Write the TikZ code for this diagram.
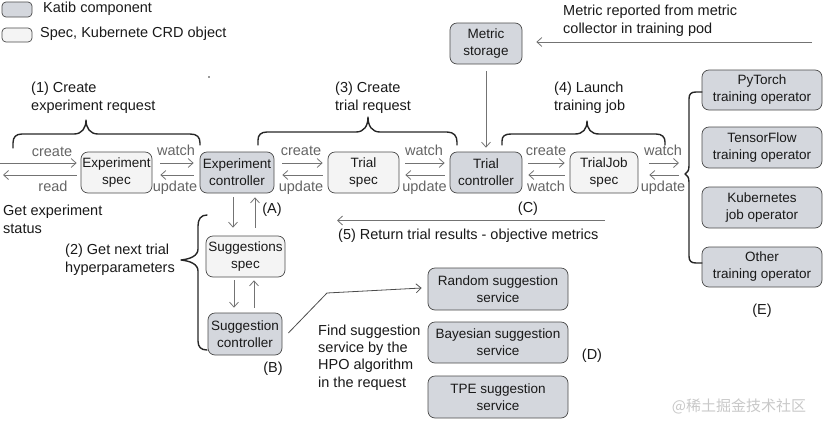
\documentclass[tikz,border=0pt]{standalone}
\usepackage{fontspec}
\setmainfont{Liberation Sans}
\newfontfamily\cjkfont{Noto Sans CJK SC}
\usetikzlibrary{arrows.meta,calc}
\definecolor{katib}{RGB}{212,215,221}
\definecolor{specfill}{RGB}{244,244,244}
\definecolor{edge}{RGB}{75,75,75}
\definecolor{arrowgray}{RGB}{115,115,115}
\definecolor{labgray}{RGB}{100,100,100}
\definecolor{txt}{RGB}{25,25,25}
\definecolor{wm}{RGB}{200,200,200}
\begin{document}
\begin{tikzpicture}[x=1pt,y=-1pt,
  box/.style={draw=edge, line width=0.7pt, rounded corners=7pt, align=center, text=txt, font=\fontsize{13.5}{17}\selectfont, inner sep=1pt},
  katibbox/.style={box, fill=katib},
  specbox/.style={box, fill=specfill},
  arr/.style={draw=arrowgray, line width=0.8pt, -{Straight Barb[length=5pt,width=9pt]}},
  lab/.style={text=labgray, font=\fontsize{14.5}{17}\selectfont, inner sep=0pt, text height=10pt, text depth=3pt},
  txtnode/.style={text=txt, font=\fontsize{14.5}{18}\selectfont, inner sep=0pt, align=left},
  bracestyle/.style={draw=black!85, line width=1.4pt, line cap=round, line join=round}
]
\useasboundingbox (0,0) rectangle (823,421);

% legend
\node[katibbox, rounded corners=4pt, minimum width=30pt, minimum height=15pt] (lk) at (17,9.5) {};
\node[txtnode, anchor=west] (lkt) at (43,9) {Katib component};
\node[specbox, rounded corners=4pt, minimum width=30pt, minimum height=14pt] (ls) at (17,35) {};
\node[txtnode, anchor=west] (lst) at (40,34) {Spec, Kubernete CRD object};

% main boxes
\node[specbox, minimum width=71pt, minimum height=41pt] (es) at (116.5,172.5) {Experiment\\spec};
\node[katibbox, minimum width=74pt, minimum height=41pt] (ec) at (237,172.5) {Experiment\\controller};
\node[specbox, minimum width=71pt, minimum height=41pt] (ts) at (363.5,172.5) {Trial\\spec};
\node[katibbox, minimum width=72pt, minimum height=41pt] (tc) at (486,172.5) {Trial\\controller};
\node[specbox, minimum width=68pt, minimum height=41pt] (tjs) at (604,172.5) {TrialJob\\spec};
\node[katibbox, minimum width=72pt, minimum height=41pt] (ms) at (486,43.5) {Metric\\storage};
\node[specbox, minimum width=79pt, minimum height=41pt] (ss) at (245.5,256.5) {Suggestions\\spec};
\node[katibbox, minimum width=74pt, minimum height=42pt] (sc) at (245,334) {Suggestion\\controller};
\node[katibbox, minimum width=140pt, minimum height=42pt] (rs) at (498,289) {Random suggestion\\service};
\node[katibbox, minimum width=140pt, minimum height=41pt] (bs) at (498,342.5) {Bayesian suggestion\\service};
\node[katibbox, minimum width=140pt, minimum height=42pt] (tp) at (498,397) {TPE suggestion\\service};
\node[katibbox, minimum width=120pt, minimum height=40pt] (pt) at (762,90) {PyTorch\\training operator};
\node[katibbox, minimum width=120pt, minimum height=41pt] (tf) at (762,147.5) {TensorFlow\\training operator};
\node[katibbox, minimum width=120pt, minimum height=41pt] (kj) at (762,207.5) {Kubernetes\\job operator};
\node[katibbox, minimum width=120pt, minimum height=40pt] (ot) at (762,267) {Other\\training operator};

% free ends
\coordinate (lin) at (0,163);
\coordinate (lout) at (3,175);
\coordinate (etip) at (685,174);
\coordinate (mrin) at (812,42);
\coordinate (r5a) at (605,220.5);
\coordinate (r5b) at (337,220.5);
\coordinate (bend) at (327,293);

% horizontal arrow pairs
\draw[arr, shorten >=4pt] (lin) -- (lin -| es.west);
\draw[arr, shorten <=4pt] (lout -| es.west) -- (lout);
\draw[arr, shorten <=8pt, shorten >=6pt] ([yshift=9.5pt]es.east) -- ([yshift=9.5pt]ec.west);
\draw[arr, shorten <=6pt, shorten >=8pt] ([yshift=-2.5pt]ec.west) -- ([yshift=-2.5pt]es.east);
\draw[arr, shorten <=8pt, shorten >=5pt] ([yshift=9.5pt]ec.east) -- ([yshift=9.5pt]ts.west);
\draw[arr, shorten <=5pt, shorten >=8pt] ([yshift=-2.5pt]ts.west) -- ([yshift=-2.5pt]ec.east);
\draw[arr, shorten <=6pt, shorten >=5pt] ([yshift=9.5pt]ts.east) -- ([yshift=9.5pt]tc.west);
\draw[arr, shorten <=5pt, shorten >=6pt] ([yshift=-2.5pt]tc.west) -- ([yshift=-2.5pt]ts.east);
\draw[arr, shorten <=6pt, shorten >=5pt] ([yshift=9.5pt]tc.east) -- ([yshift=9.5pt]tjs.west);
\draw[arr, shorten <=5pt, shorten >=6pt] ([yshift=-2.5pt]tjs.west) -- ([yshift=-2.5pt]tc.east);
\draw[arr, shorten <=11pt, shorten >=6pt] ([yshift=9.5pt]tjs.east) -- ([yshift=9.5pt]tjs.east -| etip);
\draw[arr, shorten <=6pt, shorten >=11pt] ([yshift=-2.5pt]tjs.east -| etip) -- ([yshift=-2.5pt]tjs.east);

% arrow labels
\node[lab] (l1) at (52,153) {create};
\node[lab] (l2) at (53,188) {read};
\node[lab] (l3) at (176,152) {watch};
\node[lab] (l4) at (175,188) {update};
\node[lab] (l5) at (301,152) {create};
\node[lab] (l6) at (301,188) {update};
\node[lab] (l7) at (424,152) {watch};
\node[lab] (l8) at (424.5,188) {update};
\node[lab] (l9) at (546,152) {create};
\node[lab] (l10) at (546,188) {watch};
\node[lab] (l11) at (663,152) {watch};
\node[lab] (l12) at (663,188) {update};

% vertical arrows
\draw[arr, shorten <=4pt, shorten >=8pt] ([xshift=-4pt]ec.south) -- ([xshift=-4pt]ec.south |- ss.north);
\draw[arr, shorten <=8pt, shorten >=4pt] ([xshift=18pt]ec.south |- ss.north) -- ([xshift=18pt]ec.south);
\draw[arr, shorten <=3pt, shorten >=5pt] ([xshift=-11.5pt]ss.south) -- ([xshift=-11.5pt]ss.south |- sc.north);
\draw[arr, shorten <=5pt, shorten >=3pt] ([xshift=8.5pt]ss.south |- sc.north) -- ([xshift=8.5pt]ss.south);
\draw[arr, shorten <=7pt, shorten >=4pt] (ms.south) -- (tc.north);
\draw[arr, shorten >=14pt] (mrin) -- (mrin -| ms.east);
\draw[arr] (r5a) -- (r5b);
\draw[arr, draw=black!70] ([xshift=6pt,yshift=1pt]sc.east) -- (bend) -- ([xshift=-6pt,yshift=1pt]rs.west);

% braces
\draw[bracestyle] (13,148) -- (13,143) .. controls (13,137) and (16,134) .. (22,134) -- (74,134) .. controls (82,134) and (86,128) .. (86,120) .. controls (86,128) and (90,134) .. (98,134) -- (190,134) .. controls (197,134) and (200,137) .. (200,143) -- (200,145);
\draw[bracestyle] (258,145) -- (258,140) .. controls (258,135) and (261,132) .. (267,132) -- (356,132) .. controls (364,132) and (368,126) .. (368,117) .. controls (368,126) and (372,132) .. (380,132) -- (447,132) .. controls (454,132) and (457,136) .. (457,142) -- (457,145);
\draw[bracestyle] (502,145) -- (502,141) .. controls (502,136) and (505,134) .. (511,134) -- (575,134) .. controls (583,134) and (587,129) .. (587,121) .. controls (587,129) and (591,134) .. (599,134) -- (656,134) .. controls (662,134) and (665,137) .. (665,142) -- (665,145);
\draw[bracestyle] (207,215) .. controls (201,215) and (198,219) .. (198,226) -- (198,249) .. controls (198,256) and (190,259) .. (181,260) .. controls (190,261) and (198,264) .. (198,271) -- (198,341) .. controls (198,347) and (201,350) .. (207,350);
\draw[bracestyle] (702,92) -- (696,92) .. controls (691,92) and (689,94) .. (689,99) -- (689,166) .. controls (689,171) and (687,173) .. (685,174) .. controls (687,175) and (689,177) .. (689,182) -- (689,256) .. controls (689,261) and (691,263) .. (696,263) -- (702,263);

% texts
\node[txtnode, anchor=west] (t1) at (31,98) {(1) Create\\experiment request};
\node[txtnode, anchor=west] (t3) at (335,98) {(3) Create\\trial request};
\node[txtnode, anchor=west] (t4) at (554,98) {(4) Launch\\training job};
\node[txtnode, anchor=west] (tmr) at (563,21) {Metric reported from metric\\collector in training pod};
\node[txtnode, anchor=west] (tge) at (3,219) {Get experiment\\status};
\node[txtnode, anchor=west] (t2) at (65,259.5) {(2) Get next trial\\hyperparameters};
\node[txtnode, anchor=west] (t5) at (338,236) {(5) Return trial results - objective metrics};
\node[txtnode, anchor=west, font=\fontsize{14.5}{17.3}\selectfont] (tfind) at (318,357.5) {Find suggestion\\service by the\\HPO algorithm\\in the request};
\node[txtnode] (la) at (272,210) {(A)};
\node[txtnode] (lb) at (273,369) {(B)};
\node[txtnode] (lc) at (528,209) {(C)};
\node[txtnode] (ld) at (592,356) {(D)};
\node[txtnode] (le) at (762,311) {(E)};

% stray dot
\fill[black!80] (209,77) circle (0.9pt);

% watermark
\node[text=wm, font=\cjkfont\fontsize{15}{17}\selectfont, inner sep=0pt] (wmk) at (739,406) {@稀土掘金技术社区};
\end{tikzpicture}
\end{document}
